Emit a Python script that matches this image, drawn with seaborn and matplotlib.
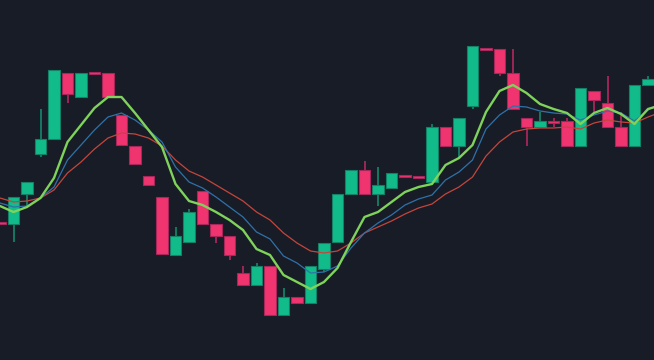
import numpy as np
import pandas as pd
import matplotlib
matplotlib.use("Agg")
import matplotlib.pyplot as plt
import seaborn as sns

# ---- data ----
opens  = [138,136,166,206,221,287,263,288,287,245,214,184,163,105,118,169,136,124,87,75,
          94,45,63,57,91,118,166,190,166,172,185,184,178,233,214,254,312,311,287,242,
          233,239,239,214,269,257,233,214,275]
closes = [136,163,178,221,290,266,287,286,263,215,196,175,106,124,148,136,124,105,75,94,
          45,63,57,94,117,166,190,166,175,187,183,182,233,214,242,314,310,287,251,233,
          239,237,214,272,260,233,214,275,281]
highs  = [138,163,178,251,290,287,287,288,287,245,214,184,163,133,151,169,136,124,94,97,
          94,72,63,94,117,166,190,199,193,187,185,184,236,233,242,314,312,311,311,242,
          248,242,242,272,269,284,248,275,284]
lows   = [136,118,153,203,221,257,263,286,263,215,196,175,106,105,118,136,117,100,75,75,
          45,45,57,57,88,118,166,166,154,172,183,182,178,214,202,251,310,284,251,214,
          233,233,214,214,248,233,214,214,275]

ma_fast = [154,148,153,162,182,218,235,252,263,263,247,230,213,176,159,155,148,140,130,111,
           105,85,78,71,78,92,118,143,148,158,168,173,176,195,202,215,248,269,275,267,
           256,251,247,236,247,252,246,236,251,255]
ma_mid  = [157,153,154,162,173,200,215,230,243,247,240,230,218,193,178,172,163,153,143,128,
           121,104,97,87,88,94,112,127,137,145,155,161,165,180,188,200,231,245,254,253,
           249,247,246,240,245,249,247,239,250,257]
ma_slow = [162,158,159,162,170,187,198,211,222,227,226,222,214,200,189,183,175,167,159,148,
           140,127,117,109,107,109,117,127,133,139,146,152,156,166,173,183,204,218,228,231,
           232,232,233,231,237,240,238,237,243,248]

BG = "#181c27"
UP = "#12bc8a"
DOWN = "#ef3470"
UP_DARK = "#148066"
DOWN_DARK = "#a8275a"

sns.set_theme(style="dark", rc={"axes.facecolor": BG, "figure.facecolor": BG})

fig = plt.figure(figsize=(6.54, 3.60), dpi=100)
ax = fig.add_axes([0, 0, 1, 1])
ax.set_facecolor(BG)

n = len(opens)
idx = np.arange(n)
o = np.array(opens, float)
c = np.array(closes, float)
h = np.array(highs, float)
l = np.array(lows, float)
up = c >= o
body_bottom = np.minimum(o, c)
body_h = np.maximum(np.abs(c - o), 1.5)
colors = np.where(up, UP, DOWN)
edges = np.where(up, UP_DARK, DOWN_DARK)

ax.vlines(idx, l, h, colors=edges, linewidth=1.3, zorder=1)
ax.bar(idx, body_h, bottom=body_bottom, width=0.84, color=colors,
       edgecolor=edges, linewidth=0.8, zorder=2)

ma_df = pd.DataFrame({"i": np.arange(len(ma_fast)), "fast": ma_fast,
                      "mid": ma_mid, "slow": ma_slow})
sns.lineplot(data=ma_df, x="i", y="slow", ax=ax, color="#c4453c", linewidth=0.9, zorder=3)
sns.lineplot(data=ma_df, x="i", y="mid", ax=ax, color="#2f72a8", linewidth=0.9, zorder=3)
sns.lineplot(data=ma_df, x="i", y="fast", ax=ax, color="#7fd35a", linewidth=1.7, zorder=4)

ax.set_xlim(0, 654 / 13.5)
ax.set_ylim(0, 360)
ax.set_axis_off()

fig.savefig("out.png", dpi=100, facecolor=BG)
